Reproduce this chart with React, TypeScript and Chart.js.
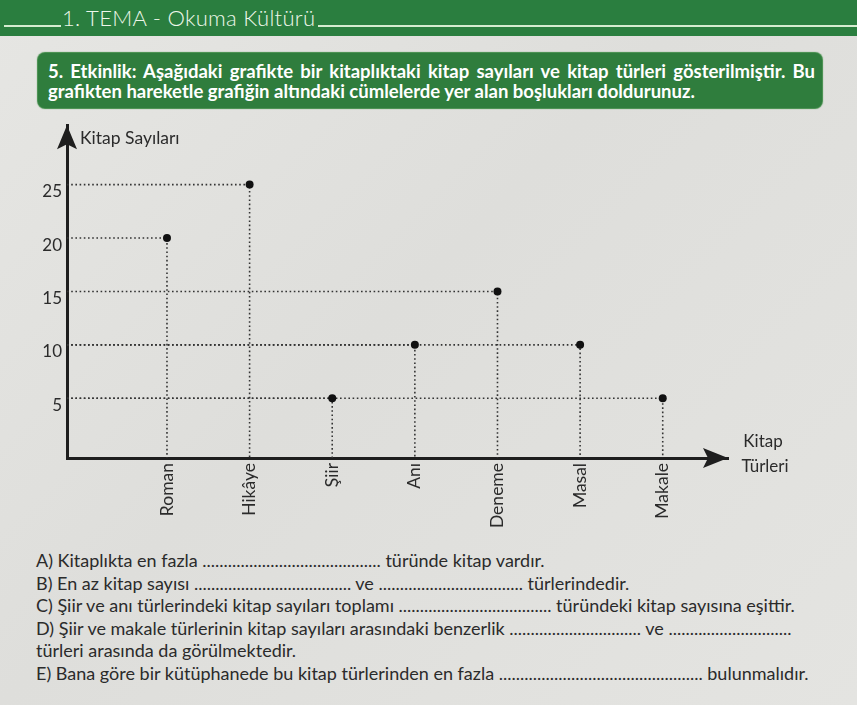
import React, { useEffect, useRef } from "react";
import { Chart, registerables } from "chart.js";

Chart.register(...registerables);

const categories = ["Roman", "Hikâye", "Şiir", "Anı", "Deneme", "Masal", "Makale"];
const bookCounts = [20, 25, 5, 10, 15, 10, 5];
const yTickValues = [5, 10, 15, 20, 25];
const yAxisTitle = "Kitap Sayıları";
const xAxisTitle = ["Kitap", "Türleri"];

const X_MIN = -1.21;
const X_MAX = 6.79;
const Y_MIN = -0.59;
const Y_MAX = 30.56;

const INK = "#2b2b2b";
const FONT = "Lato, 'Open Sans', sans-serif";

const arrowPlugin = {
  id: "arrows",
  afterDraw(chart: any) {
    const { ctx, chartArea } = chart;
    const { left, top, right, bottom } = chartArea;
    ctx.save();
    ctx.fillStyle = "#1e1e1e";
    ctx.beginPath();
    ctx.moveTo(left, top);
    ctx.lineTo(left - 10, top + 24);
    ctx.lineTo(left, top + 19);
    ctx.lineTo(left + 10, top + 24);
    ctx.closePath();
    ctx.fill();
    ctx.beginPath();
    ctx.moveTo(right, bottom);
    ctx.lineTo(right - 25, bottom - 10);
    ctx.lineTo(right - 20, bottom);
    ctx.lineTo(right - 25, bottom + 10);
    ctx.closePath();
    ctx.fill();
    ctx.fillStyle = INK;
    ctx.font = "17.5px " + FONT;
    ctx.textBaseline = "middle";
    ctx.textAlign = "left";
    ctx.fillText(yAxisTitle, left + 13, top + 13);
    ctx.font = "17px " + FONT;
    ctx.textAlign = "center";
    ctx.fillText(xAxisTitle[0], right + 35, bottom - 16);
    ctx.fillText(xAxisTitle[1], right + 37, bottom + 9);
    ctx.restore();
  },
};

function KitapChart() {
  const ref = useRef<HTMLCanvasElement | null>(null);
  useEffect(() => {
    if (!ref.current) return;
    const guides = bookCounts.map((v, i) => ({
      type: "line",
      data: [
        { x: X_MIN, y: v },
        { x: i, y: v },
        { x: i, y: Y_MIN },
      ],
      showLine: true,
      borderColor: "#333",
      borderWidth: 1.6,
      borderDash: [1.6, 2.6],
      pointRadius: 0,
      order: 2,
    }));
    const chart = new Chart(ref.current, {
      type: "scatter",
      data: {
        datasets: [
          {
            label: "Kitap Sayısı",
            data: bookCounts.map((v, i) => ({ x: i, y: v })),
            pointRadius: 4,
            pointBackgroundColor: "#111",
            pointBorderWidth: 0,
            order: 1,
          } as any,
          ...(guides as any[]),
        ],
      },
      options: {
        responsive: false,
        animation: false,
        layout: { padding: { top: 10, right: 129, left: 0, bottom: 0 } },
        plugins: { legend: { display: false }, tooltip: { enabled: false } },
        scales: {
          x: {
            type: "linear",
            min: X_MIN,
            max: X_MAX,
            grid: { display: false, drawTicks: false },
            border: { display: true, color: "#1e1e1e", width: 3 },
            afterBuildTicks: (s: any) => {
              s.ticks = categories.map((_, i) => ({ value: i }));
            },
            afterFit: (s: any) => {
              s.height = 72;
            },
            ticks: {
              autoSkip: false,
              minRotation: 90,
              maxRotation: 90,
              padding: 5,
              color: INK,
              font: { family: FONT, size: 17.5 },
              callback: (v: any) => categories[v] ?? "",
            },
          },
          y: {
            type: "linear",
            min: Y_MIN,
            max: Y_MAX,
            grid: { display: false, drawTicks: false },
            border: { display: true, color: "#1e1e1e", width: 3 },
            afterBuildTicks: (s: any) => {
              s.ticks = yTickValues.map((v) => ({ value: v }));
            },
            afterFit: (s: any) => {
              s.width = 67;
            },
            ticks: {
              padding: 5,
              labelOffset: 7,
              color: INK,
              font: { family: FONT, size: 17 },
            },
          },
        },
      } as any,
      plugins: [arrowPlugin],
    });
    return () => chart.destroy();
  }, []);
  return <canvas ref={ref} width={857} height={420} style={{ display: "block" }} />;
}

const dots = (n: number) => ".".repeat(n);

export default function App() {
  const lineStyle: React.CSSProperties = { whiteSpace: "nowrap", height: 22.6, lineHeight: "22.6px" };
  return (
    <div
      style={{
        position: "fixed",
        left: 0,
        top: 0,
        width: 857,
        height: 705,
        overflow: "hidden",
        background: "linear-gradient(135deg, #e6e6e3 0%, #dededb 45%, #e4e4e1 100%)",
        fontFamily: FONT,
        color: INK,
      }}
    >
      <div style={{ position: "absolute", left: 0, top: 0, width: 857, height: 36, background: "#2a7e3f" }} />
      <div style={{ position: "absolute", left: 4, top: 25, width: 57, height: 2, background: "#d5ecd0" }} />
      <div style={{ position: "absolute", left: 318, top: 25, width: 539, height: 2, background: "#d5ecd0" }} />
      <div
        style={{
          position: "absolute",
          left: 62,
          top: 4,
          height: 28,
          lineHeight: "28px",
          fontSize: 22,
          fontWeight: 300,
          color: "#eef7ea",
          whiteSpace: "nowrap",
          letterSpacing: 0.3,
        }}
      >
        1. TEMA - Okuma Kültürü
      </div>

      <div
        style={{
          position: "absolute",
          left: 38,
          top: 53,
          width: 784,
          height: 55,
          background: "#2f7d3d",
          borderRadius: 7,
          boxShadow: "0 0 1px 1px #3d8a45",
        }}
      />
      <div
        style={{
          position: "absolute",
          left: 48,
          top: 61,
          width: 767,
          fontSize: 18.5,
          fontWeight: 700,
          color: "#ffffff",
          lineHeight: "20px",
        }}
      >
        <div style={{ textAlign: "justify", textAlignLast: "justify", whiteSpace: "nowrap" }}>
          5. Etkinlik: Aşağıdaki grafikte bir kitaplıktaki kitap sayıları ve kitap türleri gösterilmiştir. Bu
        </div>
        <div style={{ whiteSpace: "nowrap" }}>
          grafikten hareketle grafiğin altındaki cümlelerde yer alan boşlukları doldurunuz.
        </div>
      </div>

      <div style={{ position: "absolute", left: 0, top: 110, width: 857, height: 420 }}>
        <KitapChart />
      </div>

      <div style={{ position: "absolute", left: 36, top: 549, fontSize: 18 }}>
        <div style={lineStyle}>A) Kitaplıkta en fazla {dots(42)} türünde kitap vardır.</div>
        <div style={lineStyle}>
          B) En az kitap sayısı {dots(37)} ve {dots(34)} türlerindedir.
        </div>
        <div style={lineStyle}>
          C) Şiir ve anı türlerindeki kitap sayıları toplamı {dots(36)} türündeki kitap sayısına eşittir.
        </div>
        <div style={lineStyle}>
          D) Şiir ve makale türlerinin kitap sayıları arasındaki benzerlik {dots(31)} ve {dots(29)}
        </div>
        <div style={lineStyle}>türleri arasında da görülmektedir.</div>
        <div style={lineStyle}>
          E) Bana göre bir kütüphanede bu kitap türlerinden en fazla {dots(48)} bulunmalıdır.
        </div>
      </div>
    </div>
  );
}
